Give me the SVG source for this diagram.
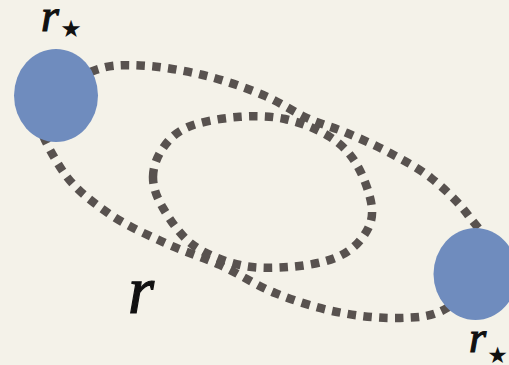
<svg xmlns="http://www.w3.org/2000/svg" width="509" height="365" viewBox="0 0 509 365">
  <style>
    .orbit { fill: none; stroke: #58524f; stroke-width: 8.5; stroke-dasharray: 8.5 7.3; stroke-linecap: butt; }
    .body { fill: #6f8cbe; }
    .sym { font-family: "Liberation Serif", "Times New Roman", serif; font-style: italic; fill: #111; stroke: #111; stroke-width: 1.2; }
    .star { font-family: "DejaVu Sans", sans-serif; fill: #111; }
  </style>
  <rect x="0" y="0" width="509" height="365" fill="#f4f2e9"/>
  <g id="connectors">
    <path id="outer-orbit" class="orbit" d="M 38,105 C 43.17,88.5 76,77.58 93,71 C 110,64.42 121.67,64.83 140,65.5 C 158.33,66.17 182.5,70.08 203,75 C 223.5,79.92 245.67,87.83 263,95 C 280.33,102.17 293,111.67 307,118 C 321,124.33 333.17,127.17 347,133 C 360.83,138.83 376,145.5 390,153 C 404,160.5 418,167.67 431,178 C 444,188.33 457.67,201 468,215 C 478.33,229 496.5,246.5 493,262 C 489.5,277.5 462.5,298.67 447,308 C 431.5,317.33 418.33,317.33 400,318 C 381.67,318.67 357.83,316.17 337,312 C 316.17,307.83 294.5,300.83 275,293 C 255.5,285.17 238.33,273.33 220,265 C 201.67,256.67 183.67,251.67 165,243 C 146.33,234.33 125.17,225.17 108,213 C 90.83,200.83 73.67,188 62,170 C 50.33,152 32.83,121.5 38,105 Z"/>
    <path id="inner-orbit" class="orbit" d="M 153,177 C 153,167 157.17,156.33 163,148 C 168.83,139.67 175.67,132.17 188,127 C 200.33,121.83 220.83,118.33 237,117 C 253.17,115.67 269.5,115.67 285,119 C 300.5,122.33 318,129.33 330,137 C 342,144.67 350,153 357,165 C 364,177 371.17,196.83 372,209 C 372.83,221.17 368.17,229.83 362,238 C 355.83,246.17 347.17,253.17 335,258 C 322.83,262.83 304.83,265.83 289,267 C 273.17,268.17 256,268.67 240,265 C 224,261.33 205.83,254.5 193,245 C 180.17,235.5 169.67,219.33 163,208 C 156.33,196.67 153,187 153,177 Z"/>
  </g>
  <g id="node-left">
    <ellipse class="body" cx="56" cy="95.5" rx="42" ry="46.5"/>
    <text class="sym" x="41" y="31" font-size="46">r</text>
    <text class="star" x="71" y="37" font-size="24" text-anchor="middle">★</text>
  </g>
  <g id="node-right">
    <ellipse class="body" cx="475.5" cy="274" rx="42" ry="46"/>
    <text class="sym" x="469" y="352" font-size="44">r</text>
    <text class="star" x="497.5" y="362.5" font-size="23" text-anchor="middle">★</text>
  </g>
  <g id="label-r">
    <text class="sym" x="128" y="313" font-size="67">r</text>
  </g>
</svg>
